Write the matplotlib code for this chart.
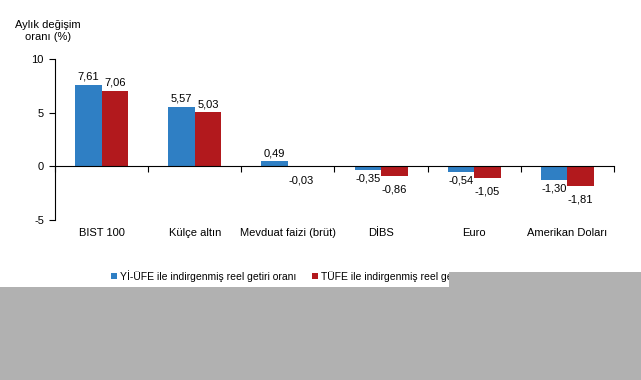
import matplotlib
matplotlib.use("Agg")
import matplotlib.pyplot as plt
from matplotlib.patches import Rectangle
from matplotlib.transforms import blended_transform_factory
import numpy as np

plt.rcParams['font.family'] = ['Liberation Sans', 'DejaVu Sans']
plt.rcParams['font.size'] = 8

categories = ["BIST 100", "Külçe altın", "Mevduat faizi (brüt)", "DİBS", "Euro", "Amerikan Doları"]
yiufe = [7.61, 5.57, 0.49, -0.35, -0.54, -1.30]
tufe = [7.06, 5.03, -0.03, -0.86, -1.05, -1.81]
series_names = ["Yİ-ÜFE ile indirgenmiş reel getiri oranı", "TÜFE ile indirgenmiş reel getiri oranı"]
yticks = [-5, 0, 5, 10]

blue = "#2f7fc4"
red = "#b2191d"

W, H = 641, 380
fig = plt.figure(figsize=(W / 100, H / 100), dpi=100)
ax = fig.add_axes([55 / W, 1 - 220 / H, (614 - 55) / W, (220 - 59) / H])

x = np.arange(len(categories))
bw = 0.285
b1 = ax.bar(x - bw / 2, yiufe, bw, color=blue, label=series_names[0])
b2 = ax.bar(x + bw / 2, tufe, bw, color=red, label=series_names[1])

def fmt(v):
    return f"{v:.2f}".replace(".", ",")

for bars, vals, neg_off in ((b1, yiufe, -2.5), (b2, tufe, -6.5)):
    for rect, v in zip(bars, vals):
        cx = rect.get_x() + rect.get_width() / 2
        if v >= 0:
            ax.annotate(fmt(v), (cx, v), xytext=(0, 2), textcoords="offset points",
                        ha="center", va="bottom", fontsize=8)
        else:
            ax.annotate(fmt(v), (cx, v), xytext=(0, neg_off), textcoords="offset points",
                        ha="center", va="top", fontsize=8)

ax.set_xlim(-0.5, len(categories) - 0.5)
ax.set_ylim(-5, 10)
ax.set_yticks(yticks)
ax.set_yticklabels([str(t) for t in yticks])
ax.tick_params(axis="y", direction="out", length=4, width=0.8, pad=4)

ax.spines['top'].set_visible(False)
ax.spines['right'].set_visible(False)
ax.spines['bottom'].set_position(('data', 0))
ax.spines['left'].set_linewidth(0.8)
ax.spines['bottom'].set_linewidth(0.8)
ax.set_xticks(np.arange(-0.5, len(categories), 1.0))
ax.set_xticklabels([])
ax.tick_params(axis="x", direction="out", length=4, width=0.8)

trans = blended_transform_factory(ax.transData, ax.transAxes)
for i, c in enumerate(categories):
    ax.text(i, -13 / 161, c, transform=trans, ha="center", va="center", fontsize=8)

fig.text(48 / W, 1 - 31 / H, "Aylık değişim\noranı (%)", ha="center", va="center",
         fontsize=8, linespacing=1.35)

fig.legend(handles=[b1, b2], loc="center left", bbox_to_anchor=(106 / W, 1 - 276 / H),
           ncol=2, frameon=False, handlelength=0.55, handleheight=0.55,
           handletextpad=0.3, columnspacing=1.5, fontsize=7.5, borderpad=0)

# gray occluding block present in the reference image
gray = "#b1b1b1"
fig.add_artist(Rectangle((0, 0), 1, (H - 287) / H, transform=fig.transFigure,
                         facecolor=gray, edgecolor="none", zorder=10))
fig.add_artist(Rectangle((449 / W, (H - 288) / H), 1 - 449 / W, 16 / H,
                         transform=fig.transFigure, facecolor=gray, edgecolor="none", zorder=10))

fig.savefig("out.png", dpi=100)
